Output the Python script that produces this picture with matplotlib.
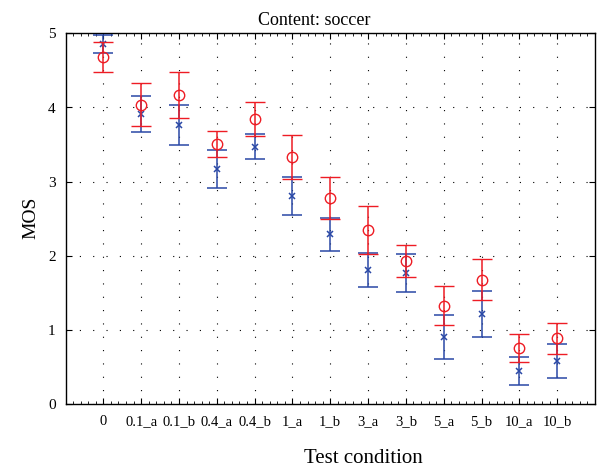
import matplotlib
matplotlib.use("Agg")
import matplotlib.pyplot as plt
from matplotlib.ticker import AutoMinorLocator, FixedLocator
import numpy as np

plt.rcParams['font.family'] = ['Liberation Serif', 'DejaVu Serif']

conditions = ["0", "0.1_a", "0.1_b", "0.4_a", "0.4_b", "1_a", "1_b",
              "3_a", "3_b", "5_a", "5_b", "10_a", "10_b"]
mos_red = [4.68, 4.04, 4.17, 3.51, 3.85, 3.33, 2.78, 2.35, 1.93, 1.33, 1.68, 0.76, 0.89]
err_red = [0.20, 0.29, 0.31, 0.18, 0.23, 0.30, 0.28, 0.32, 0.22, 0.26, 0.28, 0.19, 0.21]
mos_blue = [4.86, 3.91, 3.77, 3.17, 3.47, 2.81, 2.29, 1.81, 1.77, 0.91, 1.22, 0.45, 0.58]
err_blue = [0.12, 0.24, 0.27, 0.26, 0.17, 0.26, 0.22, 0.23, 0.25, 0.30, 0.31, 0.19, 0.23]

W, H = 598, 473
fig = plt.figure(figsize=(W / 100, H / 100), dpi=100)
L, R, T, B = 65.5, 595, 33.3, 404.3
ax = fig.add_axes([L / W, 1 - B / H, (R - L) / W, (B - T) / H])

x = np.arange(1, len(conditions) + 1)
blue = '#2a48a6'
red = '#ee1c24'
ax.errorbar(x, mos_blue, yerr=err_blue, fmt='x', color=blue, ecolor=blue,
            markersize=5, markeredgewidth=1.1, elinewidth=1.1, capsize=7,
            capthick=1.1, zorder=3)
ax.errorbar(x, mos_red, yerr=err_red, fmt='o', color=red, ecolor=red,
            markerfacecolor='none', markersize=7.5, markeredgewidth=1.0,
            elinewidth=1.1, capsize=7, capthick=1.1, zorder=4)

ax.set_xlim(0, len(conditions) + 1)
ax.set_ylim(0, 5)
ax.set_xticks(x)
ax.set_xticklabels(conditions, fontsize=10.5)
ax.set_yticks([0, 1, 2, 3, 4, 5])
ax.set_yticklabels(["0", "1", "2", "3", "4", "5"], fontsize=11)
ax.xaxis.set_minor_locator(AutoMinorLocator(5))
ax.tick_params(axis='both', which='major', direction='in', length=4, width=0.8,
               top=True, right=True, color='black')
ax.tick_params(axis='x', which='major', pad=8)
ax.tick_params(axis='y', which='major', pad=7)
ax.tick_params(axis='x', which='minor', direction='in', length=2, width=0.6,
               top=True, bottom=True)
ax.grid(True, which='major', color='black', linewidth=0.8,
        linestyle=(0, (1, 11)))
ax.set_axisbelow(True)
for s in ax.spines.values():
    s.set_linewidth(1.0)

fig.text(314 / W, 1 - 25 / H, "Content: soccer", ha='center', va='baseline',
         fontsize=13)
fig.text(363 / W, 1 - 462.5 / H, "Test condition", ha='center', va='baseline',
         fontsize=15)
fig.text(31 / W, 1 - 218 / H, "MOS", ha='center', va='center', rotation=90,
         fontsize=14)

fig.savefig("out.png", dpi=100)
